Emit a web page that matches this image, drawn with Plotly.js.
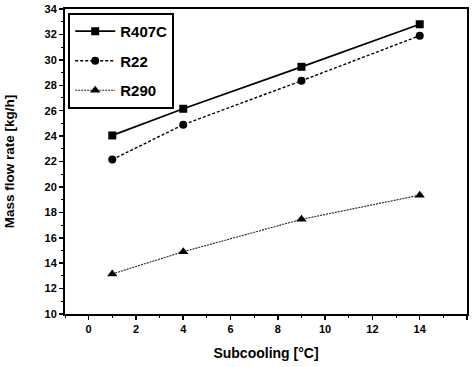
<!DOCTYPE html>
<html><head><meta charset="utf-8">
<script src="https://cdn.plot.ly/plotly-3.0.1.min.js"></script>
<style>html,body{margin:0;padding:0;background:#fff}#c{width:473px;height:367px}</style>
</head><body><div id="c"></div>
<script>
const subcooling = [1, 4, 9, 14];
const r407c = [24.05, 26.15, 29.45, 32.8];
const r22 = [22.15, 24.9, 28.35, 31.9];
const r290 = [13.15, 14.9, 17.45, 19.35];
const seriesNames = ['R407C', 'R22', 'R290'];

const F = 'Liberation Sans, Arial, sans-serif';
const traces = [
  {x: subcooling, y: r407c, name: seriesNames[0], legendgroup: 'a', mode: 'lines+markers',
   line: {color: '#000', width: 1.8, dash: 'solid'}, marker: {symbol: 'square', size: 8, color: '#000'}},
  {x: subcooling, y: r22, name: seriesNames[1], legendgroup: 'b', mode: 'lines+markers',
   line: {color: '#000', width: 1.4, dash: '3px,2px'}, marker: {symbol: 'circle', size: 8, color: '#000'}},
  {x: subcooling, y: r290, name: seriesNames[2], legendgroup: 'c', mode: 'lines+markers',
   line: {color: '#222', width: 1.1, dash: '2px,1px'}, marker: {symbol: 'triangle-up', size: 9, color: '#000'}}
];
const axisCommon = {
  showgrid: false, zeroline: false, showline: true, linecolor: '#000', linewidth: 2,
  mirror: true, ticks: 'outside', ticklen: 4, tickwidth: 1.5, tickcolor: '#000',
  tickfont: {family: F, size: 11, color: '#000', weight: 'bold'},
  minor: {ticks: 'outside', ticklen: 2, tickwidth: 1, tickcolor: '#000', dtick: 1}
};
const layout = {
  width: 473, height: 367,
  margin: {l: 65, r: 6, t: 9, b: 53},
  paper_bgcolor: '#fff', plot_bgcolor: '#fff',
  showlegend: true,
  xaxis: Object.assign({}, axisCommon, {range: [-1, 16], dtick: 2, tick0: 0,
    title: {text: 'Subcooling [°C]', font: {family: F, size: 14, color: '#000', weight: 'bold'}, standoff: 14}}),
  yaxis: Object.assign({}, axisCommon, {range: [10, 34], dtick: 2, tick0: 10,
    title: {text: 'Mass flow rate [kg/h]', font: {family: F, size: 13.5, color: '#000', weight: 'bold'}, standoff: 27}}),
  legend: {x: 0.008, y: 0.987, xanchor: 'left', yanchor: 'top',
    bgcolor: '#fff', bordercolor: '#000', borderwidth: 2,
    font: {family: F, size: 15, color: '#000', weight: 'bold'},
    traceorder: 'grouped', tracegroupgap: 7, itemwidth: 40}
};
Plotly.newPlot('c', traces, layout, {displayModeBar: false, staticPlot: true});
</script></body></html>
